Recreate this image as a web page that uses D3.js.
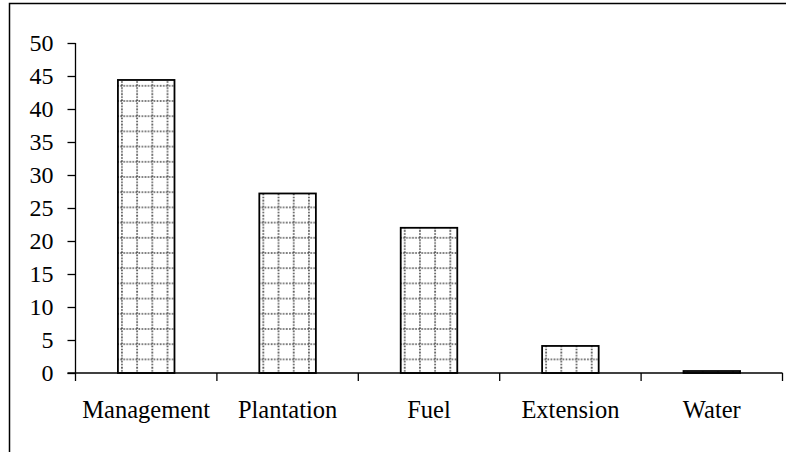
<!DOCTYPE html>
<html lang="en">
<head>
    <meta charset="UTF-8" />
    <title>Bar chart</title>
    <script src="https://d3js.org/d3.v7.js"></script>
    <style>
        body { margin: 0; background: #fff; }
    </style>
</head>
<body>
    <script>
        var w = 786;
        var h = 452;

        var categories = ["Management", "Plantation", "Fuel", "Extension", "Water"];
        var values = [44.4, 27.2, 22.0, 4.1, 0.3];
        var yTicks = [0, 5, 10, 15, 20, 25, 30, 35, 40, 45, 50];

        var plotLeft = 75.5, plotRight = 782.5, plotTop = 43, plotBottom = 373;
        var serif = "'Liberation Serif', 'Times New Roman', serif";

        var svg = d3.select("body")
            .append("svg")
            .attr("width", w)
            .attr("height", h);

        // outer frame (only top and left edges show)
        svg.append("path")
            .attr("d", "M9.5,452 L9.5,3.5 L786,3.5")
            .attr("fill", "none")
            .attr("stroke", "#000")
            .attr("stroke-width", 1.5);

        var xScale = d3.scaleBand()
            .domain(categories)
            .range([plotLeft, plotRight])
            .paddingInner(0.6)
            .paddingOuter(0.3);

        var yScale = d3.scaleLinear()
            .domain([0, 50])
            .range([plotBottom, plotTop]);

        // y axis
        var yAxis = d3.axisLeft(yScale)
            .tickValues(yTicks)
            .tickSize(8)
            .tickPadding(14);
        var gy = svg.append("g")
            .attr("transform", "translate(" + plotLeft + ",0)")
            .call(yAxis)
            .attr("font-family", null)
            .attr("font-size", null);
        gy.select(".domain").attr("stroke-width", 1.3).attr("d", "M0," + plotTop + "V" + plotBottom);
        gy.selectAll(".tick line").attr("stroke-width", 1.3);
        gy.selectAll(".tick text")
            .style("font-size", "24px")
            .style("font-family", serif)
            .attr("fill", "#000");

        // defs: one dotted grid pattern per bar, aligned to the bar
        var defs = svg.append("defs");
        var cell = 15.2;
        categories.forEach(function (c, i) {
            var p = defs.append("pattern")
                .attr("id", "grid" + i)
                .attr("patternUnits", "userSpaceOnUse")
                .attr("x", xScale(c) + 4 - cell / 2)
                .attr("y", plotBottom - 6)
                .attr("width", cell)
                .attr("height", cell);
            p.append("rect").attr("width", cell).attr("height", cell).attr("fill", "#fff");
            p.append("line")
                .attr("x1", cell / 2).attr("x2", cell / 2)
                .attr("y1", 0).attr("y2", cell)
                .attr("stroke", "#444").attr("stroke-width", 1.6)
                .attr("stroke-dasharray", "1.6,1.4");
            p.append("line")
                .attr("x1", 0).attr("x2", cell)
                .attr("y1", cell / 2).attr("y2", cell / 2)
                .attr("stroke", "#444").attr("stroke-width", 1.6)
                .attr("stroke-dasharray", "1.6,1.4");
        });

        svg.selectAll("rect.bar")
            .data(values)
            .enter()
            .append("rect")
            .attr("class", "bar")
            .attr("x", function (d, i) { return xScale(categories[i]); })
            .attr("y", function (d) { return yScale(d); })
            .attr("width", xScale.bandwidth())
            .attr("height", function (d) { return plotBottom - yScale(d); })
            .attr("fill", function (d, i) { return "url(#grid" + i + ")"; })
            .attr("stroke", "#000")
            .attr("stroke-width", 1.8);

        // x axis
        var xLin = d3.scaleLinear().domain([0, categories.length]).range([plotLeft, plotRight]);
        var gx = svg.append("g").attr("transform", "translate(0," + plotBottom + ")");
        gx.append("line")
            .attr("x1", plotLeft - 8).attr("x2", plotRight)
            .attr("stroke", "#000").attr("stroke-width", 1.3);
        gx.selectAll("line.tick")
            .data(d3.range(categories.length + 1))
            .enter()
            .append("line")
            .attr("class", "tick")
            .attr("x1", function (d) { return xLin(d); })
            .attr("x2", function (d) { return xLin(d); })
            .attr("y1", 0).attr("y2", 8)
            .attr("stroke", "#000").attr("stroke-width", 1.3);
        gx.selectAll("text")
            .data(categories)
            .enter()
            .append("text")
            .attr("x", function (d) { return xScale(d) + xScale.bandwidth() / 2; })
            .attr("y", 45)
            .attr("text-anchor", "middle")
            .style("font-family", serif)
            .style("font-size", "24.5px")
            .text(function (d) { return d; });
    </script>
</body>
</html>
